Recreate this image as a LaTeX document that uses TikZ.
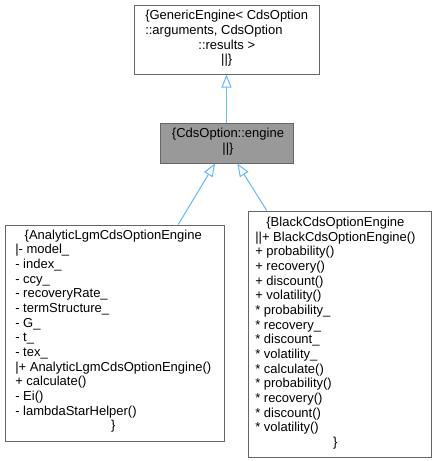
\documentclass[tikz,border=0pt]{standalone}
\usepackage{fontspec}
\setmainfont{Liberation Sans}
\usetikzlibrary{arrows.meta}
\definecolor{edgeblue}{HTML}{63B8FF}
\definecolor{boxgray}{HTML}{666666}
\definecolor{fillgray}{HTML}{999999}
\newcommand\umlfont{\fontsize{9.75}{11}\selectfont}
\newcommand\cl[1]{\multicolumn{1}{@{}c@{}}{#1}}
\begin{document}
\begin{tikzpicture}[x=0.75pt,y=-0.75pt,
  box/.style={draw=boxgray, line width=0.75pt, inner sep=0pt},
  txt/.style={inner sep=0pt, font=\umlfont},
  inh/.style={draw=edgeblue, line width=0.75pt, -{Triangle[open, length=9.75pt, width=7.5pt, fill=white]}}]
\useasboundingbox[fill=white] (0,0) rectangle (437,461);
% boxes
\node[box, minimum width=138.75pt, minimum height=51.75pt] (gen) at (226.5,39.5) {};
\node[box, fill=fillgray, minimum width=99.75pt, minimum height=30pt] (eng) at (226.5,143) {};
\node[box, minimum width=164.25pt, minimum height=162pt] (ana) at (114.5,333) {};
\node[box, minimum width=137.25pt, minimum height=184.5pt] (blk) at (339.5,334) {};
% texts
\node[txt, anchor=west] (genT) at (145,38.75) {\begin{tabular}{@{}l@{}}\{GenericEngine< CdsOption\\::arguments, CdsOption\\\cl{::results >}\\\cl{||\}}\end{tabular}};
\node[txt] (engT) at (228,142.2) {\begin{tabular}{@{}c@{}}\{CdsOption::engine\\||\}\end{tabular}};
\node[txt, anchor=west] (anaT) at (15,331.5) {\begin{tabular}{@{}l@{}}\cl{\{AnalyticLgmCdsOptionEngine}\\
|- model\_\\
- index\_\\
- ccy\_\\
- recoveryRate\_\\
- termStructure\_\\
- G\_\\
- t\_\\
- tex\_\\
|+ AnalyticLgmCdsOptionEngine()\\
+ calculate()\\
- Ei()\\
- lambdaStarHelper()\\
\cl{\}}\end{tabular}};
\node[txt, anchor=west] (blkT) at (255,333.4) {\begin{tabular}{@{}l@{}}\cl{\{BlackCdsOptionEngine}\\
||+ BlackCdsOptionEngine()\\
+ probability()\\
+ recovery()\\
+ discount()\\
+ volatility()\\
{}* probability\_\\
{}* recovery\_\\
{}* discount\_\\
{}* volatility\_\\
{}* calculate()\\
{}* probability()\\
{}* recovery()\\
{}* discount()\\
{}* volatility()\\
\cl{\}}\end{tabular}};
% connectors
\draw[inh] (eng) -- (gen);
\draw[inh] ([xshift=47.8pt]ana.north) -- ([xshift=-8.6pt]eng.south);
\draw[inh] ([xshift=-54.6pt]blk.north) -- ([xshift=8.1pt]eng.south);
\end{tikzpicture}
\end{document}
